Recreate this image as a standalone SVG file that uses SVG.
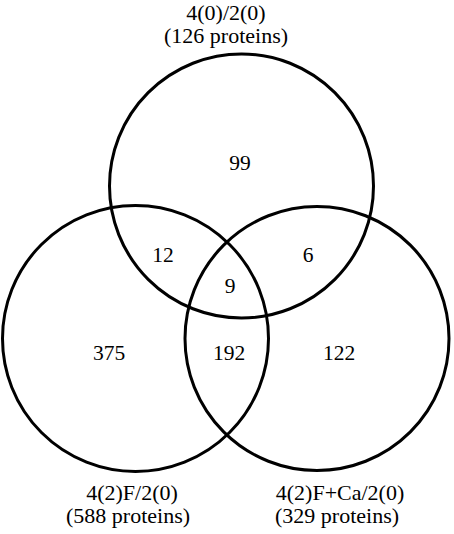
<svg xmlns="http://www.w3.org/2000/svg" width="454" height="534" viewBox="0 0 454 534">
<style>
.c{fill:none;stroke:#000;stroke-width:3}
.t{font-family:'Liberation Serif','DejaVu Serif',serif;font-size:22px;fill:#000;text-anchor:middle}
.n{font-family:'Liberation Serif','DejaVu Serif',serif;font-size:21.5px;fill:#000;text-anchor:middle}
</style>
<rect width="454" height="534" fill="#fff"/>
<g id="set-top">
<circle class="c" cx="241.5" cy="186" r="132"/>
<text class="t" x="226" y="20">4(0)/2(0)</text>
<text class="t" x="226" y="43">(126 proteins)</text>
</g>
<g id="set-left">
<circle class="c" cx="135.5" cy="338.5" r="133"/>
<text class="t" x="132" y="500">4(2)F/2(0)</text>
<text class="t" x="128" y="523">(588 proteins)</text>
</g>
<g id="set-right">
<circle class="c" cx="317" cy="338.5" r="132"/>
<text class="t" x="340" y="500">4(2)F+Ca/2(0)</text>
<text class="t" x="337" y="523">(329 proteins)</text>
</g>
<g id="counts">
<text class="n" x="240" y="170">99</text>
<text class="n" x="163" y="262">12</text>
<text class="n" x="308" y="262">6</text>
<text class="n" x="230" y="293">9</text>
<text class="n" x="109" y="360">375</text>
<text class="n" x="229" y="360">192</text>
<text class="n" x="339" y="360">122</text>
</g>
</svg>
